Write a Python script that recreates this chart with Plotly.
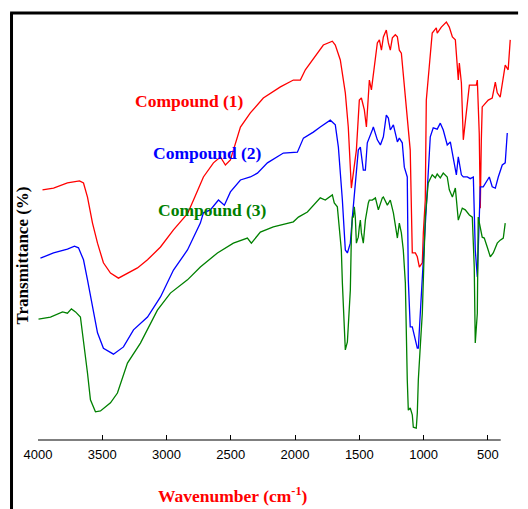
import plotly.graph_objects as go

# Compound (1)
wn1 = [3965, 3879, 3771, 3677, 3646, 3615, 3576, 3537, 3491, 3436, 3374, 3226, 3148, 3047, 2946,
       2837, 2790, 2713, 2635, 2581, 2542, 2503, 2425, 2348, 2247, 2114, 2013, 1959, 1920, 1827,
       1780, 1710, 1687, 1648, 1609, 1586, 1562, 1523, 1500, 1484, 1461, 1445, 1422, 1406, 1383,
       1360, 1344, 1328, 1313, 1290, 1274, 1259, 1243, 1220, 1204, 1189, 1173, 1150, 1127, 1111,
       1104, 1088, 1064, 1049, 1033, 1010, 1002, 987, 979, 956, 933, 901, 894, 862, 823, 800, 776,
       753, 738, 730, 722, 706, 691, 668, 644, 590, 582, 567, 559, 551, 544, 497, 466, 442, 427,
       404, 388, 365, 342, 326]
t1 = [58.6, 59.0, 60.2, 60.7, 60.2, 56.9, 50.8, 46.1, 41.5, 39.1, 37.9, 40.3, 42.2, 45.2, 49.2,
      53.0, 56.2, 61.6, 64.9, 66.3, 64.4, 65.6, 73.3, 76.6, 80.1, 82.7, 84.3, 84.3, 86.7, 90.6,
      92.5, 93.4, 92.5, 89.0, 81.3, 73.3, 59.0, 67.9, 79.6, 80.1, 77.3, 73.3, 84.3, 82.0, 87.4,
      93.0, 93.7, 91.3, 94.4, 96.0, 93.0, 91.3, 94.2, 94.9, 94.4, 91.3, 90.6, 83.6, 75.6, 70.0,
      67.9, 43.8, 43.8, 42.9, 40.5, 41.5, 48.5, 56.2, 79.6, 87.4, 95.3, 96.5, 95.3, 96.7, 97.9, 96.7, 94.4,
      93.7, 87.4, 84.3, 88.3, 83.6, 70.3, 77.3, 83.1, 83.1, 84.3, 71.8, 54.3, 70.0, 78.0, 79.6, 80.1, 83.8, 81.3,
      80.3, 83.8, 87.8, 86.7, 93.7]

# Compound (2)
wn2 = [3981, 3879, 3771, 3716, 3685, 3646, 3615, 3576, 3537, 3491, 3413, 3335, 3257, 3148, 3047,
       2946, 2837, 2737, 2713, 2659, 2596, 2550, 2503, 2425, 2348, 2293, 2215, 2091, 1982, 1935,
       1858, 1804, 1726, 1687, 1663, 1632, 1609, 1593, 1570, 1554, 1531, 1508, 1492, 1469, 1453,
       1438, 1399, 1391, 1360, 1336, 1313, 1290, 1274, 1259, 1235, 1204, 1189, 1166, 1150, 1127,
       1119, 1104, 1088, 1064, 1049, 1041, 1026, 1010, 971, 948, 925, 894, 870, 847, 816, 792,
       769, 745, 730, 706, 691, 660, 637, 613, 598, 582, 575, 559, 536, 505, 489, 466, 442, 419,
       388, 365, 349]
t2 = [42.6, 43.8, 44.7, 45.4, 45.0, 42.2, 37.5, 31.1, 25.1, 21.5, 20.1, 21.8, 25.8, 28.8, 33.5,
      39.8, 44.5, 50.8, 53.2, 53.9, 56.2, 55.0, 58.1, 60.9, 61.6, 62.5, 64.9, 67.2, 67.4, 70.7,
      72.1, 73.3, 74.9, 73.8, 68.6, 56.2, 44.5, 43.8, 46.1, 52.2, 60.2, 67.9, 68.6, 63.2, 63.2,
      69.6, 72.6, 73.3, 70.3, 69.1, 71.0, 76.1, 75.4, 72.6, 73.8, 69.8, 70.7, 69.6, 63.9, 61.6,
      37.5, 26.5, 26.5, 23.0, 21.5, 21.5, 29.7, 37.5, 60.2, 71.0, 73.1, 72.8, 74.2, 72.6, 69.1, 69.8,
      66.0, 62.1, 66.3, 62.1, 61.6, 61.6, 61.2, 61.6, 44.5, 38.2, 44.5, 59.3, 59.3, 60.9, 61.6, 59.3, 59.0, 61.6,
      64.4, 64.9, 71.9]

# Compound (3)
wn3 = [3996, 3903, 3809, 3771, 3740, 3708, 3670, 3646, 3615, 3592, 3553, 3514, 3436, 3382, 3304,
       3203, 3071, 2970, 2837, 2737, 2604, 2480, 2371, 2340, 2270, 2169, 2013, 1974, 1904, 1804,
       1765, 1710, 1695, 1671, 1655, 1640, 1632, 1624, 1609, 1593, 1570, 1562, 1554, 1547, 1539,
       1531, 1523, 1516, 1508, 1500, 1492, 1484, 1477, 1469, 1453, 1445, 1430, 1422, 1399, 1375,
       1352, 1321, 1313, 1282, 1259, 1235, 1204, 1189, 1173, 1158, 1142, 1127, 1119, 1104, 1088,
       1080, 1057, 1049, 1041, 1026, 1010, 987, 964, 933, 909, 894, 870, 847, 816, 800, 776, 753,
       730, 699, 676, 644, 621, 606, 600, 598, 582, 575, 544, 528, 505, 481, 458, 427, 404, 380, 365]
t3 = [28.3, 28.8, 30.0, 29.7, 30.7, 30.0, 28.8, 23.4, 15.7, 9.4, 6.6, 6.8, 8.7, 11.0, 18.0,
      22.7, 30.4, 34.4, 37.5, 40.5, 43.8, 46.1, 47.3, 46.1, 48.7, 49.9, 51.1, 52.2, 53.4, 56.7,
      56.2, 57.4, 55.5, 54.6, 48.5, 44.5, 36.8, 30.0, 21.1, 23.0, 35.1, 47.5, 52.2, 52.2, 54.6,
      52.0, 46.1, 46.8, 47.5, 49.9, 51.5, 48.5, 47.5, 46.1, 51.5, 53.2, 55.5, 56.2, 56.2, 56.7,
      53.9, 56.7, 56.9, 55.0, 56.2, 53.2, 47.3, 50.8, 48.5, 44.5, 36.8, 14.1, 7.0, 7.5, 5.9,
      3.0, 2.8, 6.3, 14.1, 21.8, 29.7, 52.2, 60.2, 62.1, 61.4, 62.3, 61.4, 62.5, 61.6, 58.6, 56.9, 59.0,
      51.5, 54.3, 53.9, 52.7, 52.2, 40.5, 25.8, 22.7, 29.7, 52.2, 47.5, 47.3, 45.2, 42.9, 43.8, 46.1, 46.8, 47.3, 50.8]

x_ticks = [4000, 3500, 3000, 2500, 2000, 1500, 1000, 500]

series = [
    ("Compound (1)", wn1, t1, "#ff0000"),
    ("Compound (2)", wn2, t2, "#0000ff"),
    ("Compound (3)", wn3, t3, "#008000"),
]

fig = go.Figure()
for name, x, y, c in series:
    fig.add_trace(go.Scatter(x=x, y=y, mode="lines", name=name,
                             line=dict(color=c, width=1.3), showlegend=False))

serif = "Times New Roman, Liberation Serif, serif"
label_pos = [(0.321, 0.794), (0.359, 0.672), (0.369, 0.539)]
for (name, _, _, c), (ax, ay) in zip(series, label_pos):
    fig.add_annotation(x=ax, y=ay, xref="paper", yref="paper", text="<b>%s</b>" % name,
                       showarrow=False, font=dict(family=serif, size=17.5, color=c),
                       xanchor="center", yanchor="middle")

fig.add_annotation(x=0.412, y=-0.128, xref="paper", yref="paper",
                   text="<b>Wavenumber (cm<sup>-1</sup>)</b>", showarrow=False,
                   font=dict(family=serif, size=17.5, color="#ff0000"),
                   xanchor="center", yanchor="middle")
fig.add_annotation(x=-0.033, y=0.433, xref="paper", yref="paper",
                   text="<b>Transmittance (%)</b>", showarrow=False, textangle=-90,
                   font=dict(family=serif, size=17, color="black"),
                   xanchor="center", yanchor="middle")

# frame lines and x axis line
fig.add_shape(type="line", xref="paper", yref="paper", x0=-0.056, x1=-0.056, y0=1.0, y1=-0.2,
              line=dict(color="black", width=3))
fig.add_shape(type="line", xref="paper", yref="paper", x0=-0.059, x1=1.015, y0=1.0, y1=1.0,
              line=dict(color="black", width=3))
fig.add_shape(type="line", xref="x", yref="paper", x0=4000, x1=400, y0=0, y1=0,
              line=dict(color="black", width=1.2))

fig.update_layout(
    width=528, height=509,
    margin=dict(l=38, r=17, t=13, b=69),
    paper_bgcolor="white", plot_bgcolor="white",
    xaxis=dict(range=[4000, 320], tickvals=x_ticks, ticks="inside", ticklen=5,
               tickcolor="black", tickwidth=1, showline=False, showgrid=False, zeroline=False,
               tickfont=dict(family="Arial, Liberation Sans, sans-serif", size=13, color="black"),
               ticklabelstandoff=5),
    yaxis=dict(range=[0, 100], showticklabels=False, ticks="", showgrid=False,
               zeroline=False, showline=False),
)

fig.write_html("out.html")
